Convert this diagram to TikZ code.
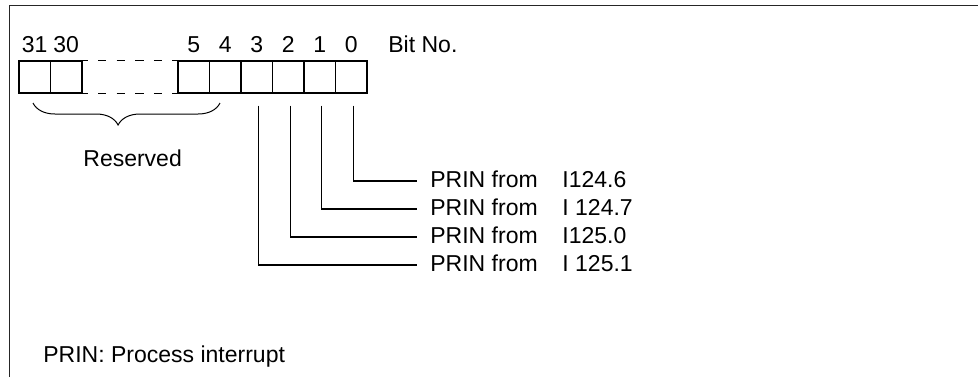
\documentclass[tikz,border=0pt]{standalone}
\usepackage{fontspec}
\setmainfont{Liberation Sans}
\usetikzlibrary{calc, decorations.pathreplacing}
\tikzset{
	bitbox/.style={draw, line width=0.65pt, minimum width=15.75pt, minimum height=16pt, inner sep=0pt},
	txt/.style={inner sep=0pt, font=\fontsize{11.5}{13.8}\selectfont},
	lead/.style={line width=0.6pt},
	gap/.style={line width=0.65pt, dash pattern=on 4.2pt off 5.1pt, dash phase=1.6pt}
}
\begin{document}
\begin{tikzpicture}[x=0.5pt, y=-0.5pt, line cap=butt]

  \useasboundingbox (0,0) rectangle (978,377);
  \draw[line width=0.6pt, black!85] (9.5,377) -- (9.5,5.5) -- (978,5.5);

  % register cells
  \node[bitbox] (b31) at (34.75,77) {};
  \node[bitbox] (b30) at (66.25,77) {};
  \node[bitbox] (b5) at (193.75,77) {};
  \node[bitbox] (b4) at (225.25,77) {};
  \node[bitbox] (b3) at (256.75,77) {};
  \node[bitbox] (b2) at (288.25,77) {};
  \node[bitbox] (b1) at (319.75,77) {};
  \node[bitbox] (b0) at (351.25,77) {};
  \draw[gap] (b30.north east) -- (b5.north west);
  \draw[gap] (b30.south east) -- (b5.south west);

  % bit numbers
  \node[txt, anchor=base] (n31) at ([yshift=12.5pt]b31.center) {31};
  \node[txt, anchor=base] (n30) at ([yshift=12.5pt]b30.center) {30};
  \node[txt, anchor=base] (n5) at ([yshift=12.5pt]b5.center) {5};
  \node[txt, anchor=base] (n4) at ([yshift=12.5pt]b4.center) {4};
  \node[txt, anchor=base] (n3) at ([yshift=12.5pt]b3.center) {3};
  \node[txt, anchor=base] (n2) at ([yshift=12.5pt]b2.center) {2};
  \node[txt, anchor=base] (n1) at ([yshift=12.5pt]b1.center) {1};
  \node[txt, anchor=base] (n0) at ([yshift=12.5pt]b0.center) {0};
  \node[txt, anchor=base west] (bitno) at (388,52) {Bit No.};

  % reserved bits
  \coordinate (rl) at (33,103);
  \coordinate (rr) at (220,103);
  \draw[decorate, decoration={brace, mirror, amplitude=11pt, aspect=0.455}, line width=0.5pt] (rl) -- (rr);
  \node[txt, anchor=base west] (res) at (83,166) {Reserved};

  % interrupt sources
  \node[txt, anchor=base west] (l0) at (430,187) {PRIN from};
  \node[txt, anchor=base west] (l1) at (430,215) {PRIN from};
  \node[txt, anchor=base west] (l2) at (430,243) {PRIN from};
  \node[txt, anchor=base west] (l3) at (430,271) {PRIN from};
  \node[txt, anchor=base west] (i0) at (562,187) {I124.6};
  \node[txt, anchor=base west] (i1) at (562,215) {I 124.7};
  \node[txt, anchor=base west] (i2) at (562,243) {I125.0};
  \node[txt, anchor=base west] (i3) at (562,271) {I 125.1};
  \draw[lead] ($(b0.south)+(2,12)$) |- ($(l0.base west)+(-13,-6)$);
  \draw[lead] ($(b1.south)+(2,12)$) |- ($(l1.base west)+(-13,-6)$);
  \draw[lead] ($(b2.south)+(2,12)$) |- ($(l2.base west)+(-13,-6)$);
  \draw[lead] ($(b3.south)+(2,12)$) |- ($(l3.base west)+(-13,-6)$);

  \node[txt, anchor=base west] (note) at (43,362) {PRIN: Process interrupt};

\end{tikzpicture}
\end{document}
